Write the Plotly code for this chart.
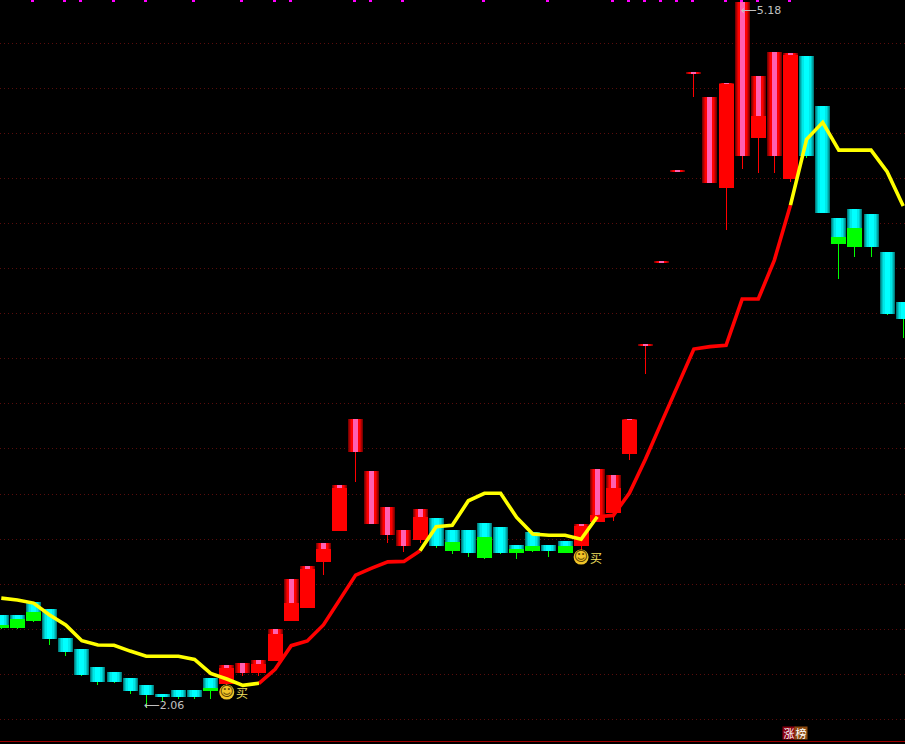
import numpy as np
import plotly.graph_objects as go

# direction of each session: 1 = rising (red), 0 = falling (cyan)
direction = [0]*14 + [1]*13 + [0]*9 + [1]*14 + [0]*7

body_top = [2.463,2.463,2.519,2.490,2.361,2.312,2.232,2.210,2.183,2.152,2.112,2.130,2.130,2.183,
            2.241,2.250,2.263,2.399,2.623,2.680,2.782,3.040,3.333,3.102,2.942,2.840,2.933,
            2.893,2.840,2.840,2.871,2.853,2.774,2.831,2.774,2.791,
            2.862,3.111,3.084,3.333,3.661,4.034,4.433,4.873,4.762,4.824,5.183,4.855,4.961,4.952,
            4.943,4.722,4.225,4.265,4.242,4.074,3.852]
body_mid = [2.419,2.445,2.478,2.356,2.299,2.197,2.166,2.166,2.126,2.108,2.099,2.099,2.099,2.139,
            2.228,2.206,2.245,2.379,2.516,2.667,2.756,3.026,3.186,2.867,2.818,2.769,2.898,
            2.769,2.787,2.738,2.809,2.738,2.756,2.769,2.747,2.769,
            2.858,2.907,3.026,3.328,3.657,4.029,4.429,4.868,4.380,4.819,4.500,4.677,4.500,4.948,
            4.500,4.247,4.140,4.180,4.096,3.799,3.776]
body_low = [2.407,2.407,2.436,2.356,2.299,2.197,2.166,2.166,2.126,2.108,2.099,2.099,2.099,2.126,
            2.157,2.206,2.206,2.259,2.436,2.494,2.698,2.836,3.186,2.867,2.818,2.769,2.796,
            2.769,2.747,2.738,2.716,2.738,2.738,2.747,2.747,2.738,
            2.769,2.876,2.916,3.177,3.657,4.029,4.429,4.868,4.380,4.358,4.500,4.580,4.500,4.398,
            4.500,4.247,4.109,4.096,4.096,3.799,3.776]
low = [2.401,2.401,2.432,2.330,2.281,2.192,2.152,2.161,2.112,2.050,2.077,2.090,2.090,2.090,
       2.139,2.192,2.192,2.259,2.436,2.494,2.640,2.836,3.053,2.867,2.782,2.743,2.782,
       2.760,2.734,2.720,2.711,2.734,2.711,2.743,2.720,2.738,
       2.751,2.876,2.880,3.151,3.532,4.029,4.429,4.762,4.380,4.171,4.442,4.424,4.424,4.384,
       4.491,4.247,3.954,4.052,4.052,3.794,3.692]

trend = [2.538,2.530,2.516,2.463,2.419,2.349,2.330,2.329,2.303,2.280,2.280,2.280,2.266,2.204,
         2.179,2.151,2.160,2.222,2.327,2.348,2.419,2.530,2.640,2.671,2.699,2.701,2.748,
         2.855,2.861,2.970,3.003,3.003,2.896,2.822,2.817,2.817,2.799,2.899,2.905,
         3.004,3.155,3.319,3.484,3.643,3.654,3.660,3.865,3.865,4.038,4.282,4.574,4.649,
         4.526,4.526,4.526,4.430,4.278]
yellow_runs = [(0, 16), (26, 37), (49, 56)]
red_runs = [(16, 26), (37, 49)]

limit_up_days = [2,4,5,7,9,12,15,17,18,22,23,25,30,34,38,39,40,41,42,43,45,46,47,49]
buy_days = [14, 36]
buy_levels = [2.121, 2.720]
high_day, high_value, low_day, low_value = 46, 5.18, 9, 2.06

red_strips = ["#7a0000", "#a80000", "#d80000", "#ff0000", "#ff60b0"]
cyan_strips = ["#007c7c", "#00a4a4", "#00c8c8", "#00e8e8", "#00ffff"]
strip_px = [15, 13, 11, 9, 5]

idx = np.arange(len(body_top))
top, mid, lo, wick = map(np.array, (body_top, body_mid, body_low, low))
is_up = np.array(direction) == 1
PX = 905 / 56.19  # px per session

fig = go.Figure()

# wicks (near-opaque colours make plotly snap these thin bars to whole pixels)
fig.add_trace(go.Bar(x=idx, base=wick, y=lo - wick, width=1.0 / PX,
                     marker=dict(color=["rgba(255,0,0,0.999)" if u else "rgba(0,255,0,0.999)" for u in is_up],
                                 line_width=0),
                     hoverinfo="skip"))
# gradient bodies as nested strips
for w, rc, cc in zip(strip_px, red_strips, cyan_strips):
    fig.add_trace(go.Bar(x=idx, base=mid, y=np.maximum(top - mid, 0.0045), width=w / PX,
                         marker=dict(color=[rc if u else cc for u in is_up], line_width=0),
                         hoverinfo="skip"))
# solid lower bodies
fig.add_trace(go.Bar(x=idx, base=lo, y=mid - lo, width=15 / PX,
                     marker=dict(color=["#ff0000" if u else "#00ff00" for u in is_up], line_width=0),
                     hoverinfo="skip"))
# limit-up flags along the top
fig.add_trace(go.Bar(x=limit_up_days, base=[5.183] * len(limit_up_days), y=[0.01] * len(limit_up_days),
                     width=3 / PX, offset=-2.5 / PX,
                     marker=dict(color="#ff00ff", line_width=0), hoverinfo="skip"))

def run_series(runs):
    xs, ys = [], []
    for a, b in runs:
        xs += list(range(a, b + 1)) + [None]
        ys += trend[a:b + 1] + [None]
    return xs, ys

for runs, col in ((red_runs, "#ff0000"), (yellow_runs, "#ffff00")):
    xs, ys = run_series(runs)
    fig.add_trace(go.Scatter(x=xs, y=ys, mode="lines", line=dict(color=col, width=3.6),
                             hoverinfo="skip"))

# buy markers
fig.add_trace(go.Scatter(x=buy_days, y=buy_levels, mode="markers+text",
                         marker=dict(symbol="circle", size=15, color="#f0c428"),
                         text=["☺", "☺"], textposition="middle center",
                         textfont=dict(family="DejaVu Sans", size=14, color="#5a4000"),
                         hoverinfo="skip"))

notes = []
for d, lv in zip(buy_days, buy_levels):
    notes.append(dict(x=d, y=lv, text="买", xref="x", yref="y", xanchor="left", yanchor="middle",
                      xshift=7, showarrow=False,
                      font=dict(family="Noto Sans CJK SC", size=12, color="#f4e060")))
notes.append(dict(x=low_day, y=low_value, text="⟵" + f"{low_value:.2f}", xref="x", yref="y",
                  xanchor="left", yanchor="middle", xshift=-4, showarrow=False,
                  font=dict(family="DejaVu Sans, Liberation Sans", size=11, color="#c0c0c0")))
notes.append(dict(x=high_day, y=high_value, text="⟵" + f"{high_value:.2f}", xref="x", yref="y",
                  xanchor="left", yanchor="top", xshift=-3, yshift=1, showarrow=False,
                  font=dict(family="DejaVu Sans, Liberation Sans", size=11, color="#c0c0c0")))
notes.append(dict(x=48.9, y=1.939, text="涨", xref="x", yref="y", xanchor="center", yanchor="middle",
                  showarrow=False, bgcolor="#8b0010", borderpad=0, width=12, height=12,
                  font=dict(family="Noto Sans CJK SC", size=11, color="#ffffff")))
notes.append(dict(x=49.68, y=1.939, text="榜", xref="x", yref="y", xanchor="center", yanchor="middle",
                  showarrow=False, bgcolor="#8b4a10", borderpad=0, width=12, height=12,
                  font=dict(family="Noto Sans CJK SC", size=11, color="#ffffff")))

fig.update_layout(
    width=905, height=744, margin=dict(l=0, r=0, t=0, b=3),
    paper_bgcolor="#000000", plot_bgcolor="#000000",
    barmode="overlay", bargap=0, showlegend=False, annotations=notes,
    xaxis=dict(range=[-0.08, 56.11], showgrid=False, zeroline=False, showticklabels=False,
               ticks="", showline=True, linecolor="#a00000", linewidth=1),
    yaxis=dict(range=[1.904, 5.192], tick0=2.0, dtick=0.2, showgrid=True,
               gridcolor="#5a0c0c", griddash="1px,3px", gridwidth=1, zeroline=False,
               showticklabels=False, ticks=""),
)
fig.write_html("out.html", config={"displayModeBar": False},
               post_script="document.body.style.margin='0';document.body.style.overflow='hidden';document.body.style.background='#000';")
